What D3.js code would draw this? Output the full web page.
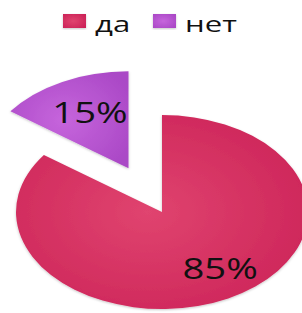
<!DOCTYPE html>
<html>
  <head>
    <meta charset="utf-8" />
    <style>
      body { margin: 0; background: #fff; }
      text { font-family: "Open Sans", sans-serif; fill: #111; }
    </style>
  </head>
  <body>
    <svg width="302" height="313"></svg>
    <script src="https://d3js.org/d3.v7.min.js"></script>
    <script>
      var categories = ["да", "нет"];
      var values = [85, 15];
      var labels = ["85%", "15%"];

      var svg = d3.select("svg"),
        width = +svg.attr("width"),
        height = +svg.attr("height");

      // picture is stretched sideways, so the pie is drawn round then scaled
      var sx = 1.505, r = 97, cx = 162, cy = 212, explode = 49;
      var tsx = 1.32;

      var light = { "да": "#e0446f", "нет": "#c665dc" };
      var dark = { "да": "#cc2358", "нет": "#aa48c6" };

      var defs = svg.append("defs");
      categories.forEach(function (c, i) {
        var g = defs.append("radialGradient")
          .attr("id", "grad" + i)
          .attr("cx", "45%").attr("cy", "50%").attr("r", "65%");
        g.append("stop").attr("offset", "0%").attr("stop-color", light[c]);
        g.append("stop").attr("offset", "100%").attr("stop-color", dark[c]);
      });
      var f = defs.append("filter").attr("id", "shadow")
        .attr("x", "-10%").attr("y", "-10%").attr("width", "120%").attr("height", "120%");
      f.append("feDropShadow").attr("dx", 0).attr("dy", 1).attr("stdDeviation", 1)
        .attr("flood-color", "#000").attr("flood-opacity", 0.22);

      var pie = d3.pie().sort(null).value(function (d) { return d; });
      var arcs = pie(values);
      var arc = d3.arc().innerRadius(0).outerRadius(r);
      var labelArc = d3.arc().innerRadius(r * 0.65).outerRadius(r * 0.65);

      var pieG = svg.append("g")
        .attr("transform", "translate(" + cx + "," + cy + ") scale(" + sx + ",1)");

      function offset(d, i) {
        if (i === 0) return [0, 0];
        var a = (d.startAngle + d.endAngle) / 2;
        return [Math.sin(a) * explode, -Math.cos(a) * explode];
      }

      var slice = pieG.selectAll("g.slice")
        .data(arcs)
        .enter()
        .append("g")
        .attr("class", "slice")
        .attr("transform", function (d, i) {
          var o = offset(d, i);
          return "translate(" + o[0] + "," + o[1] + ")";
        });

      slice.append("path")
        .attr("d", arc)
        .attr("fill", function (d, i) { return "url(#grad" + i + ")"; })
        .attr("filter", "url(#shadow)");

      // labels, kept out of the scaled group so only the stretch of the text is set here
      var nudge = [10, 3];
      svg.selectAll("g.lab")
        .data(arcs)
        .enter()
        .append("g")
        .attr("class", "lab")
        .attr("transform", function (d, i) {
          var o = offset(d, i);
          var c = labelArc.centroid(d);
          var x = cx + (c[0] + o[0] + nudge[i]) * sx;
          var y = cy + c[1] + o[1];
          return "translate(" + x + "," + y + ") scale(" + tsx + ",1)";
        })
        .append("text")
        .attr("text-anchor", "middle")
        .attr("dy", "0.36em")
        .style("font-size", "29px")
        .text(function (d, i) { return labels[i]; });

      // legend
      var lx = d3.scaleBand().domain(categories).range([63, 243]);
      var item = svg.selectAll("g.legend")
        .data(categories)
        .enter()
        .append("g")
        .attr("class", "legend")
        .attr("transform", function (d) { return "translate(" + lx(d) + ",0)"; });

      item.append("rect")
        .attr("x", 0).attr("y", 14)
        .attr("width", 23).attr("height", 14)
        .attr("fill", function (d, i) { return "url(#grad" + i + ")"; })
        .attr("filter", "url(#shadow)");

      item.append("g")
        .attr("transform", "translate(32,31.5) scale(1.45,1)")
        .append("text")
        .style("font-size", "21.5px")
        .text(function (d) { return d; });
    </script>
  </body>
</html>
